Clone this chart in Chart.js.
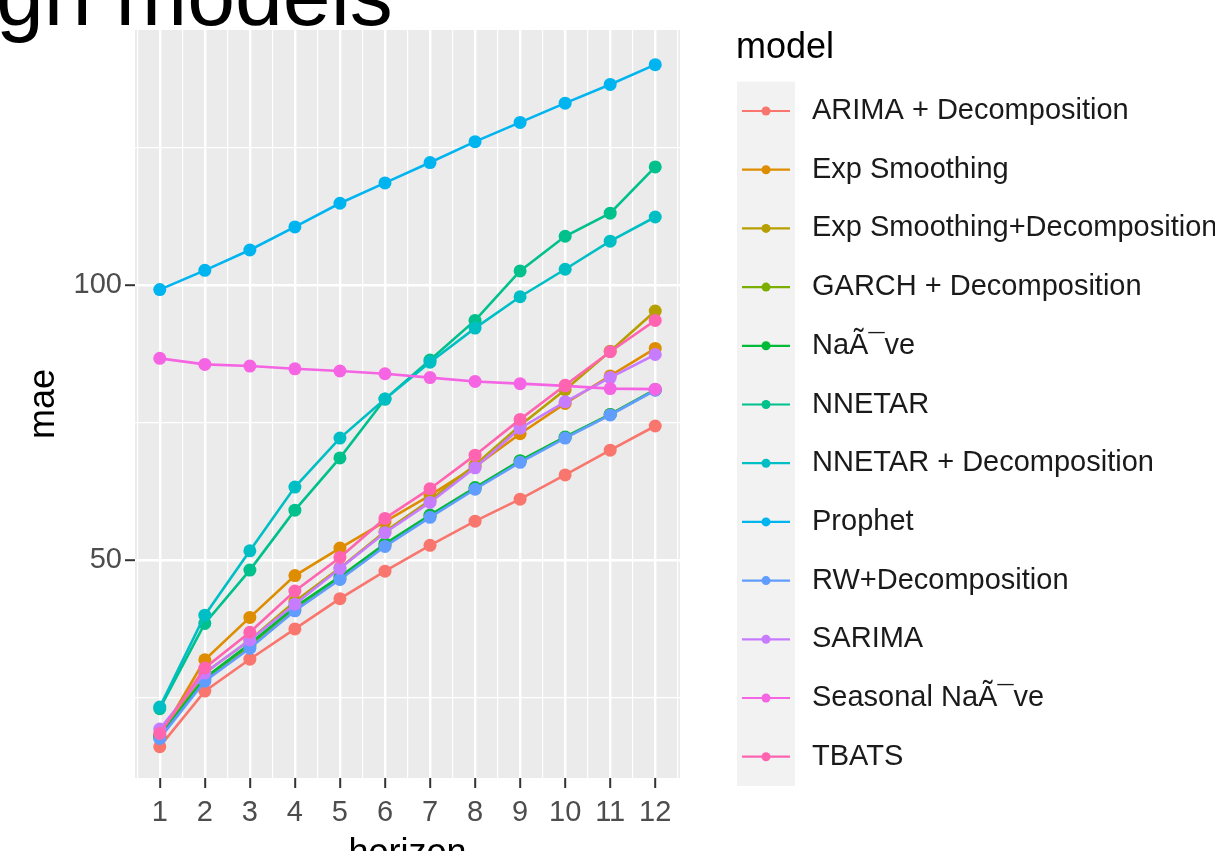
<!DOCTYPE html>
<html>
<head>
<meta charset="utf-8">
<script src="https://cdn.jsdelivr.net/npm/chart.js@4.4.1/dist/chart.umd.min.js"></script>
<style>
  html, body { margin: 0; padding: 0; background: #fff; overflow: hidden; width: 1215px; height: 851px; }
  #title { position: absolute; left: -4px; top: -48px; font-family: "Liberation Sans", Arial, sans-serif;
           font-size: 86px; line-height: 86px; color: #000; white-space: nowrap; }
  #c { position: absolute; left: 0; top: 0; }
</style>
</head>
<body>
<div id="title">gh models</div>
<canvas id="c" width="1215" height="878"></canvas>
<script>
// forecast horizon on the x axis
const horizons = [1, 2, 3, 4, 5, 6, 7, 8, 9, 10, 11, 12];

// mae per model
const arimaDecomp   = [16.1, 26.2, 32.0, 37.5, 43.0, 48.0, 52.7, 57.1, 61.1, 65.5, 70.0, 74.4];
const expSmoothing  = [18.0, 31.9, 39.6, 47.2, 52.2, 57.0, 61.8, 67.0, 73.0, 78.5, 83.5, 88.5];
const expSmoothDec  = [17.8, 29.5, 35.5, 42.5, 48.6, 55.2, 60.9, 67.3, 74.5, 81.0, 88.0, 95.3];
const garchDecomp   = [17.8, 28.3, 34.4, 41.0, 46.6, 52.7, 58.0, 63.0, 68.0, 72.3, 76.5, 81.0];
const naive         = [18.0, 28.6, 34.8, 41.5, 47.0, 53.0, 58.2, 63.2, 68.1, 72.4, 76.5, 81.0];
const nnetar        = [23.0, 38.5, 48.2, 59.1, 68.6, 79.3, 86.4, 93.6, 102.6, 108.9, 113.1, 121.5];
const nnetarDecomp  = [23.3, 40.0, 51.7, 63.3, 72.2, 79.3, 86.0, 92.2, 97.9, 102.9, 108.0, 112.4];
const prophet       = [99.2, 102.7, 106.4, 110.6, 114.9, 118.6, 122.3, 126.1, 129.6, 133.1, 136.5, 140.1];
const rwDecomp      = [17.6, 28.0, 34.0, 40.8, 46.5, 52.5, 57.8, 62.9, 67.8, 72.2, 76.4, 80.9];
const sarima        = [19.3, 29.5, 35.5, 42.0, 48.5, 55.0, 60.5, 66.8, 74.0, 78.8, 83.2, 87.4];
const seasonalNaive = [86.7, 85.6, 85.3, 84.8, 84.4, 83.9, 83.2, 82.5, 82.1, 81.7, 81.2, 81.1];
const tbats         = [18.5, 30.4, 36.9, 44.4, 50.5, 57.6, 63.0, 69.1, 75.6, 81.8, 87.9, 93.6];

const modelNames = [
  'ARIMA + Decomposition', 'Exp Smoothing', 'Exp Smoothing+Decomposition',
  'GARCH + Decomposition', 'NaÃ¯ve', 'NNETAR', 'NNETAR + Decomposition',
  'Prophet', 'RW+Decomposition', 'SARIMA', 'Seasonal NaÃ¯ve', 'TBATS'
];
const modelSeries = [
  arimaDecomp, expSmoothing, expSmoothDec, garchDecomp, naive, nnetar,
  nnetarDecomp, prophet, rwDecomp, sarima, seasonalNaive, tbats
];
const modelColors = [
  '#F8766D', '#DE8C00', '#B79F00', '#7CAE00', '#00BA38', '#00C08B',
  '#00BFC4', '#00B4F0', '#619CFF', '#C77CFF', '#F564E3', '#FF64B0'
];

// grid breaks (major ones get labels)
const xBreaks = [0.5, 1, 1.5, 2, 2.5, 3, 3.5, 4, 4.5, 5, 5.5, 6, 6.5, 7, 7.5, 8, 8.5, 9, 9.5, 10, 10.5, 11, 11.5, 12, 12.5];
const yBreaks = [25, 50, 75, 100, 125];
const yLabelled = [50, 100];

const fontFamily = '"Liberation Sans", Arial, sans-serif';

const datasets = modelNames.map((name, i) => ({
  label: name,
  data: modelSeries[i].map((v, j) => ({ x: horizons[j], y: v })),
  borderColor: modelColors[i],
  backgroundColor: modelColors[i],
  pointBackgroundColor: modelColors[i],
  pointBorderWidth: 0,
  pointRadius: 6.5,
  borderWidth: 2.6,
  tension: 0,
  order: modelNames.length - i
}));

// grey panel like ggplot
const panelBg = {
  id: 'panelBg',
  beforeDraw(chart) {
    const { ctx, chartArea: a } = chart;
    ctx.save();
    ctx.fillStyle = '#EBEBEB';
    ctx.fillRect(a.left, a.top, a.right - a.left, a.bottom - a.top);
    ctx.restore();
  }
};

// legend on the right, drawn from the datasets
const sideLegend = {
  id: 'sideLegend',
  afterDraw(chart) {
    const ctx = chart.ctx;
    const sets = chart.data.datasets;
    const x0 = 737, y0 = 111, step = 58.7;
    ctx.save();
    ctx.fillStyle = '#000';
    ctx.font = '36px ' + fontFamily;
    ctx.textBaseline = 'middle';
    ctx.fillText('model', 736, 48);

    ctx.fillStyle = '#F2F2F2';
    ctx.fillRect(x0, y0 - step / 2, 58, step * sets.length);

    sets.forEach((ds, i) => {
      const y = y0 + i * step;
      ctx.strokeStyle = ds.borderColor;
      ctx.lineWidth = 2.2;
      ctx.beginPath();
      ctx.moveTo(x0 + 5, y);
      ctx.lineTo(x0 + 53, y);
      ctx.stroke();
      ctx.fillStyle = ds.borderColor;
      ctx.beginPath();
      ctx.arc(x0 + 29, y, 4.5, 0, Math.PI * 2);
      ctx.fill();
      ctx.fillStyle = '#1A1A1A';
      ctx.font = '29px ' + fontFamily;
      ctx.fillText(ds.label, 812, y);
    });
    ctx.restore();
  }
};

new Chart(document.getElementById('c'), {
  type: 'line',
  data: { datasets: datasets },
  plugins: [panelBg, sideLegend],
  options: {
    responsive: false,
    animation: false,
    layout: { padding: { left: 0, right: 535, top: 30, bottom: 0 } },
    plugins: { legend: { display: false }, tooltip: { enabled: false } },
    scales: {
      x: {
        type: 'linear',
        min: 0.45,
        max: 12.55,
        afterBuildTicks: (s) => { s.ticks = xBreaks.map(v => ({ value: v })); },
        afterFit: (s) => { s.height = 100; },
        border: { display: false },
        grid: {
          color: '#FFFFFF',
          lineWidth: (ctx) => Number.isInteger(ctx.tick.value) ? 2.4 : 1.2,
          tickLength: 10,
          tickColor: (ctx) => Number.isInteger(ctx.tick.value) ? '#333333' : 'rgba(0,0,0,0)',
          tickWidth: 2
        },
        ticks: {
          autoSkip: false,
          maxRotation: 0,
          padding: 8,
          color: '#4D4D4D',
          font: { size: 29, family: fontFamily },
          callback: (v) => Number.isInteger(v) ? String(v) : ''
        },
        title: {
          display: true,
          text: 'horizon',
          color: '#000',
          font: { size: 36, family: fontFamily },
          padding: { top: 0, bottom: 2 }
        }
      },
      y: {
        min: 10.4,
        max: 146.4,
        afterBuildTicks: (s) => { s.ticks = yBreaks.map(v => ({ value: v })); },
        afterFit: (s) => { s.width = 135; },
        border: { display: false },
        grid: {
          color: '#FFFFFF',
          lineWidth: (ctx) => yLabelled.includes(ctx.tick.value) ? 2.4 : 1.2,
          tickLength: 10,
          tickColor: (ctx) => yLabelled.includes(ctx.tick.value) ? '#333333' : 'rgba(0,0,0,0)',
          tickWidth: 2
        },
        ticks: {
          padding: 3,
          color: '#4D4D4D',
          font: { size: 29, family: fontFamily },
          callback: (v) => yLabelled.includes(v) ? String(v) : ''
        },
        title: {
          display: true,
          text: 'mae',
          color: '#000',
          font: { size: 36, family: fontFamily },
          padding: { top: 22, bottom: 0 }
        }
      }
    }
  }
});
</script>
</body>
</html>
